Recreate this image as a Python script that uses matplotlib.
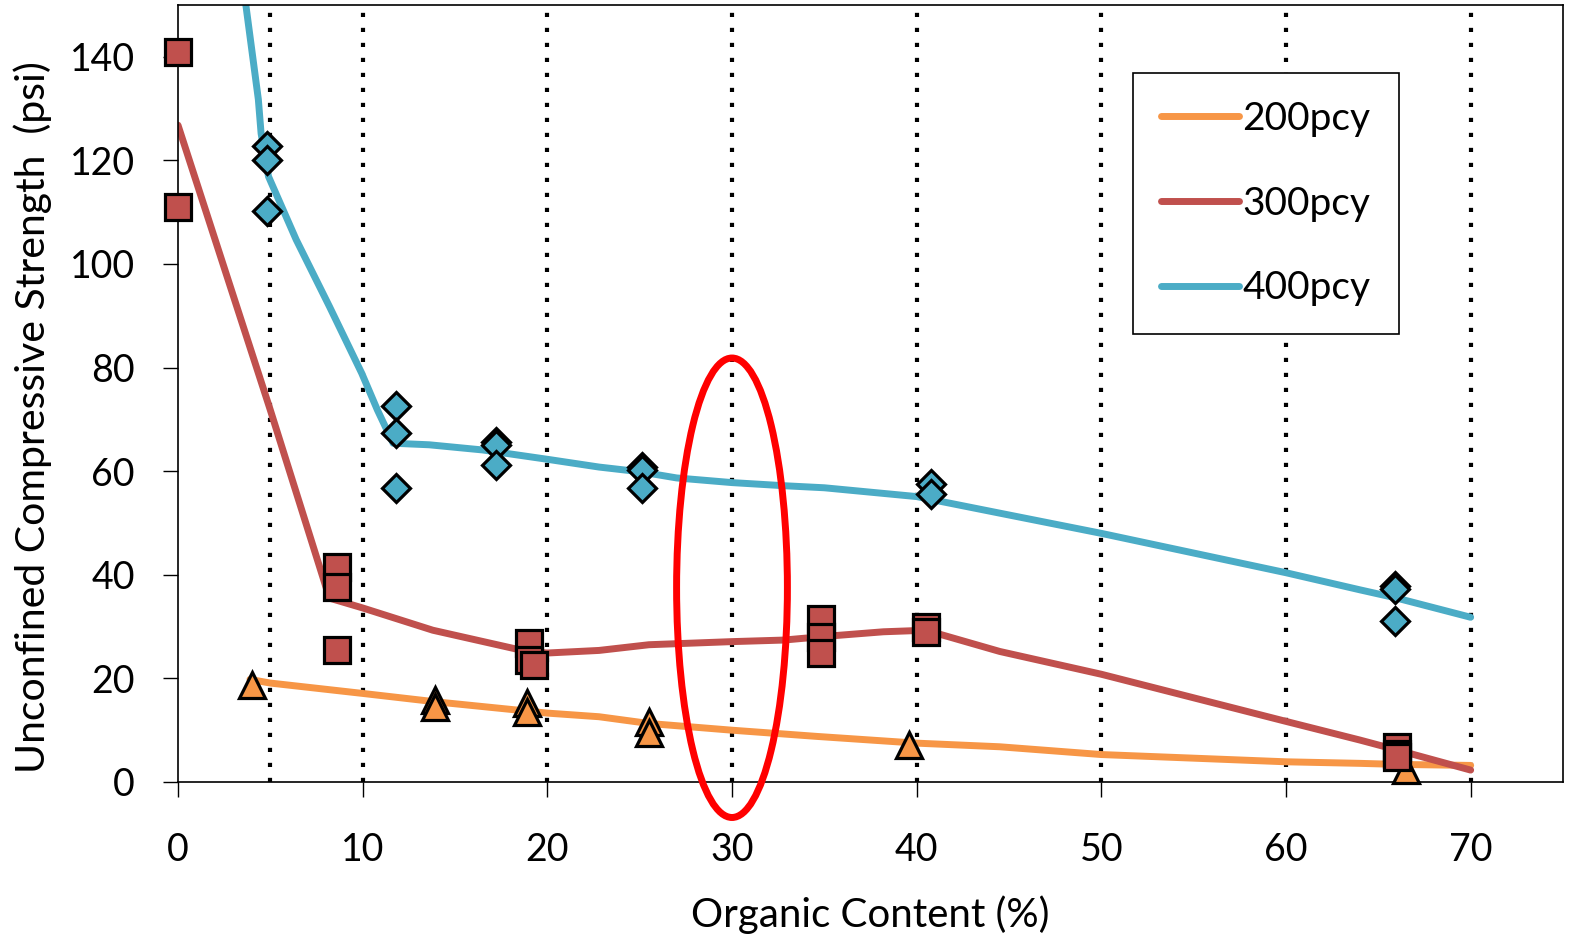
import numpy as np
import matplotlib.pyplot as plt
import matplotlib as mpl
from matplotlib.patches import Ellipse

mpl.rcParams['font.family'] = ['Lato', 'DejaVu Sans']
mpl.rcParams['font.size'] = 27

# measured UCS values (psi) vs organic content (%)
oc_200 = [4.0, 13.9, 13.9, 18.9, 18.9, 25.5, 25.5, 39.6, 66.5]
ucs_200 = [18.7, 15.8, 14.5, 15.2, 13.5, 11.6, 9.5, 7.1, 2.3]

oc_300 = [0, 0, 8.6, 8.6, 8.6, 19.0, 19.0, 19.3, 34.8, 34.8, 34.8, 40.5, 40.5, 66.0, 66.0, 66.0]
ucs_300 = [141, 111, 41.6, 37.7, 25.5, 26.8, 23.6, 22.5, 31.5, 28.0, 25.0, 30.0, 29.0, 6.8, 5.5, 4.8]

oc_400 = [4.8, 4.8, 4.8, 11.8, 11.8, 11.8, 17.2, 17.2, 17.2, 25.1, 25.1, 25.1,
          40.8, 40.8, 65.9, 65.9, 65.9]
ucs_400 = [122.8, 120.1, 110.3, 72.6, 67.4, 56.8, 65.7, 65.0, 61.2, 60.8, 60.2, 56.8,
           57.5, 55.6, 37.8, 37.2, 31.0]

# trend curves
fit_x_200 = [3.9, 5, 10, 13.9, 20, 22.8, 25.5, 30, 34.6, 40, 44.5, 50, 60, 64, 66, 70]
fit_y_200 = [19.8, 19.1, 17.1, 15.5, 13.3, 12.6, 11.3, 10.0, 8.8, 7.5, 6.8, 5.3, 3.9, 3.6, 3.4, 3.2]

fit_x_300 = [0, 5, 8.2, 10, 13.8, 18.9, 20, 22.8, 25.5, 30, 32.8, 35,
             38.2, 40.5, 44.5, 50, 60, 64, 66, 70]
fit_y_300 = [126.8, 71.8, 35.5, 33.6, 29.3, 25.2, 24.9, 25.4, 26.5,
             27.1, 27.4, 28.1, 29.0, 29.3, 25.2, 20.8, 11.7, 8.1, 6.2, 2.3]

fit_x_400 = [3.6, 4.35, 4.5, 4.9, 6.4, 8.2, 9.95, 10.8, 11.65, 13.6, 16.5, 20, 22.8, 25, 27,
             30, 32.8, 35, 40, 44.5, 50, 60, 64, 66, 70]
fit_y_400 = [152, 131.8, 125.2, 116.9, 104.7, 91.8, 78.9, 71.8, 65.4, 65.1, 64.1, 62.3, 60.8,
             59.9, 58.7, 57.8, 57.2, 56.8, 55.1, 51.9, 48.0, 40.4, 37.1, 35.5, 31.8]

divider_x = [5, 10, 20, 30, 40, 50, 60, 70]

c200 = '#F79646'
c300 = '#C0504D'
c400 = '#4BACC6'

fig = plt.figure(figsize=(15.7, 9.42), dpi=100)
ax = fig.add_axes([178 / 1570, 160 / 942, 1385 / 1570, 777 / 942])

for xv in divider_x:
    ax.axvline(xv, color='black', lw=3, linestyle=(0, (1, 2.6)), zorder=1)

ax.plot(fit_x_200, fit_y_200, color=c200, lw=5, solid_capstyle='round', label='200pcy', zorder=2)
ax.plot(fit_x_300, fit_y_300, color=c300, lw=5, solid_capstyle='round', label='300pcy', zorder=2)
ax.plot(fit_x_400, fit_y_400, color=c400, lw=5, solid_capstyle='round', label='400pcy', zorder=2)

ax.plot(oc_200, ucs_200, '^', ms=18.5, mfc=c200, mec='black', mew=2.3, zorder=3, clip_on=False)
ax.plot(oc_300, ucs_300, 's', ms=19, mfc=c300, mec='black', mew=2.3, zorder=3, clip_on=False)
ax.plot(oc_400, ucs_400, 'D', ms=14.5, mfc=c400, mec='black', mew=2.3, zorder=3, clip_on=False)

# highlight around 30 %
ax.add_patch(Ellipse((30, 37.5), width=6.0, height=88.7, fill=False,
                     edgecolor='#FF0000', lw=5, clip_on=False, zorder=5))

ax.set_xlim(0, 75)
ax.set_ylim(0, 150)
ax.set_xticks(np.arange(0, 71, 10))
ax.set_yticks(np.arange(0, 141, 20))
ax.tick_params(direction='out', length=11, width=1)
ax.tick_params(axis='y', pad=20)
ax.tick_params(axis='x', pad=25)
for s in ax.spines.values():
    s.set_linewidth(1.2)

leg = ax.legend(loc='upper left', bbox_to_anchor=(0.6895, 0.9125), fancybox=False,
                edgecolor='black', framealpha=1, borderaxespad=0, handlelength=2.0,
                handletextpad=0.1, borderpad=0.72, labelspacing=1.25, fontsize=28)
leg.get_frame().set_linewidth(1.2)

fig.text(33 / 1570, 1 - 417 / 942, 'Unconfined Compressive Strength  (psi)', rotation=90,
         ha='center', va='center', fontsize=29.5)
fig.text(870 / 1570, 1 - 915 / 942, 'Organic Content (%)', ha='center', va='center',
         fontsize=29)

plt.savefig('out.png', dpi=100)
